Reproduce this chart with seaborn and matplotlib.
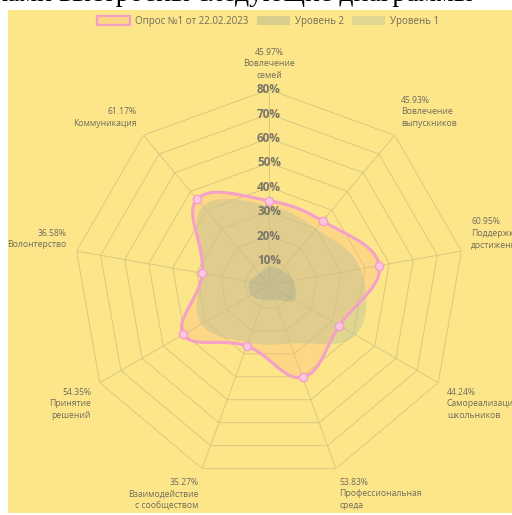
import numpy as np
import matplotlib
matplotlib.use("Agg")
import matplotlib.pyplot as plt
from matplotlib.patches import Patch
from matplotlib.colors import to_rgba
import seaborn as sns

# ---------------- data ----------------
categories = ["Вовлечение\nсемей", "Вовлечение\nвыпускников", "Поддержка\nдостижений",
              "Самореализация\nшкольников", "Профессиональная\nсреда",
              "Взаимодействие\nс сообществом", "Принятие\nрешений", "Волонтерство",
              "Коммуникация"]
label_pct = [45.97, 45.93, 60.95, 44.24, 53.83, 35.27, 54.35, 36.58, 61.17]
survey = [34.5, 34.2, 45.8, 33.3, 40.2, 26.6, 40.5, 27.7, 45.8]
level1 = [32.5, 30.0, 38.0, 41.0, 25.5, 25.0, 32.0, 28.5, 42.0]
level2 = [7.5, 8.0, 10.0, 12.0, 6.5, 6.5, 8.5, 8.0, 6.0]
r_ticks = [10, 20, 30, 40, 50, 60, 70, 80]
series_names = ["Опрос №1 от 22.02.2023", "Уровень 2", "Уровень 1"]
top_text = "ками выстроены следующие диаграммы"

# ---------------- style ----------------
BG = "#fde68a"
GRID = "#d6c682"
PINK = "#f4a0c8"
PEACH = to_rgba("#fdbb80", 0.34)
L1_COL = to_rgba("#b8c09a", 0.42)
L2_COL = to_rgba("#a3a890", 0.40)
TXT = "#6f6b5c"

sns.set_style("white")
plt.rcParams['font.family'] = ['Open Sans', 'DejaVu Sans']

W, H, DPI = 512, 515, 100
fig = plt.figure(figsize=(W / DPI, H / DPI), dpi=DPI, facecolor="white")
bg = fig.add_axes([8 / W, 2 / H, 504 / W, 503 / H], zorder=-5)
bg.set_facecolor(BG)
bg.set_xticks([])
bg.set_yticks([])
for s in bg.spines.values():
    s.set_visible(False)
fig.text(-6 / W, 1.0 - 1 / H, top_text, family=["Liberation Serif", "DejaVu Serif"],
         fontsize=20, color="black", ha="left", va="baseline")

cx, cy, R = 269, 285, 195.4
ax = fig.add_axes([(cx - R) / W, (H - cy - R) / H, 2 * R / W, 2 * R / H],
                  projection="polar", zorder=1)
ax.set_theta_zero_location("N")
ax.set_theta_direction(-1)
ax.set_ylim(0, 80)
ax.set_facecolor("none")
ax.patch.set_alpha(0)
ax.grid(False)
ax.spines["polar"].set_visible(False)
ax.set_xticks([])
ax.set_yticks([])

N = len(categories)
angles = np.arange(N) * 2 * np.pi / N


def to_polar(pts):
    th = np.unwrap(np.arctan2(pts[:, 0], pts[:, 1]))
    r = np.hypot(pts[:, 0], pts[:, 1])
    return th, r


def straight_polygon(vals, n_sub=40):
    v = np.asarray(vals, float)
    P = np.column_stack([v * np.sin(angles), v * np.cos(angles)])
    t = np.linspace(0, 1, n_sub, endpoint=False)[:, None]
    segs = [P[i] + (P[(i + 1) % N] - P[i]) * t for i in range(N)]
    pts = np.vstack(segs + [P[:1]])
    return to_polar(pts)


def smooth_closed(vals, tension=0.4, n_sub=40):
    v = np.asarray(vals, float)
    P = np.column_stack([v * np.sin(angles), v * np.cos(angles)])
    cprev = np.zeros_like(P)
    cnext = np.zeros_like(P)
    for i in range(N):
        p0, p1, p2 = P[i - 1], P[i], P[(i + 1) % N]
        d01 = np.hypot(*(p1 - p0))
        d12 = np.hypot(*(p2 - p1))
        s01 = d01 / (d01 + d12)
        s12 = d12 / (d01 + d12)
        cprev[i] = p1 - tension * s01 * (p2 - p0)
        cnext[i] = p1 + tension * s12 * (p2 - p0)
    t = np.linspace(0, 1, n_sub, endpoint=False)[:, None]
    segs = []
    for i in range(N):
        j = (i + 1) % N
        b = ((1 - t) ** 3) * P[i] + 3 * ((1 - t) ** 2) * t * cnext[i] \
            + 3 * (1 - t) * t ** 2 * cprev[j] + t ** 3 * P[j]
        segs.append(b)
    pts = np.vstack(segs + [P[:1]])
    return to_polar(pts)


# grid rings (nonagons) and spokes
for r in r_ticks:
    th, rr = straight_polygon([r] * N)
    ax.plot(th, rr, color=GRID, lw=0.65, zorder=1)
for a in angles:
    ax.plot([a, a], [0, 80], color=GRID, lw=0.65, zorder=1)

# fills
th, rr = smooth_closed(survey)
ax.fill(th, rr, color=PEACH, lw=0, zorder=2)
th1, rr1 = smooth_closed(level1)
ax.fill(th1, rr1, color=L1_COL, lw=0, zorder=3)
th2, rr2 = smooth_closed(level2)
ax.fill(th2, rr2, color=L2_COL, lw=0, zorder=4)

# survey line + points
sns.lineplot(x=th, y=rr, sort=False, ax=ax, color=PINK, lw=2.2, zorder=6)
sns.scatterplot(x=angles, y=survey, ax=ax, s=36, color="#f9c6de", edgecolor=PINK,
                linewidth=1.0, zorder=7)

# radial tick labels
for r in r_ticks:
    ax.text(0, r, f"{r}%", ha="center", va="center", fontsize=8.5, fontweight="bold",
            color="#7a7565", zorder=8)

# point labels
pad = 7.2
for a, name, pct in zip(angles, categories, label_pct):
    deg = round(np.degrees(a)) % 360
    if deg in (0, 180):
        ha = "center"
    elif deg < 180:
        ha = "left"
    else:
        ha = "right"
    if deg in (90, 270):
        va = "center"
    elif deg < 90 or deg > 270:
        va = "bottom"
    else:
        va = "top"
    ax.annotate(f"{pct:.2f}%\n{name}", xy=(a, 80),
                xytext=(pad * np.sin(a), pad * np.cos(a)), textcoords="offset points",
                ha=ha, va=va, multialignment=ha, fontsize=6.2, color=TXT,
                linespacing=1.35, annotation_clip=False)

ax.set_xlabel("")
ax.set_ylabel("")
ax.set_ylim(0, 80)
if ax.get_legend() is not None:
    ax.get_legend().remove()

handles = [Patch(facecolor=PEACH, edgecolor=PINK, linewidth=1.6),
           Patch(facecolor=L2_COL, edgecolor="none"),
           Patch(facecolor=L1_COL, edgecolor="none")]
fig.legend(handles=handles, labels=series_names, loc="center",
           bbox_to_anchor=(268 / W, 1 - 21.5 / H), ncol=3, frameon=False, fontsize=7,
           handlelength=3.4, handleheight=1.0, handletextpad=0.5, columnspacing=0.9,
           labelcolor=TXT)

fig.savefig("out.png", dpi=DPI, facecolor="white")
